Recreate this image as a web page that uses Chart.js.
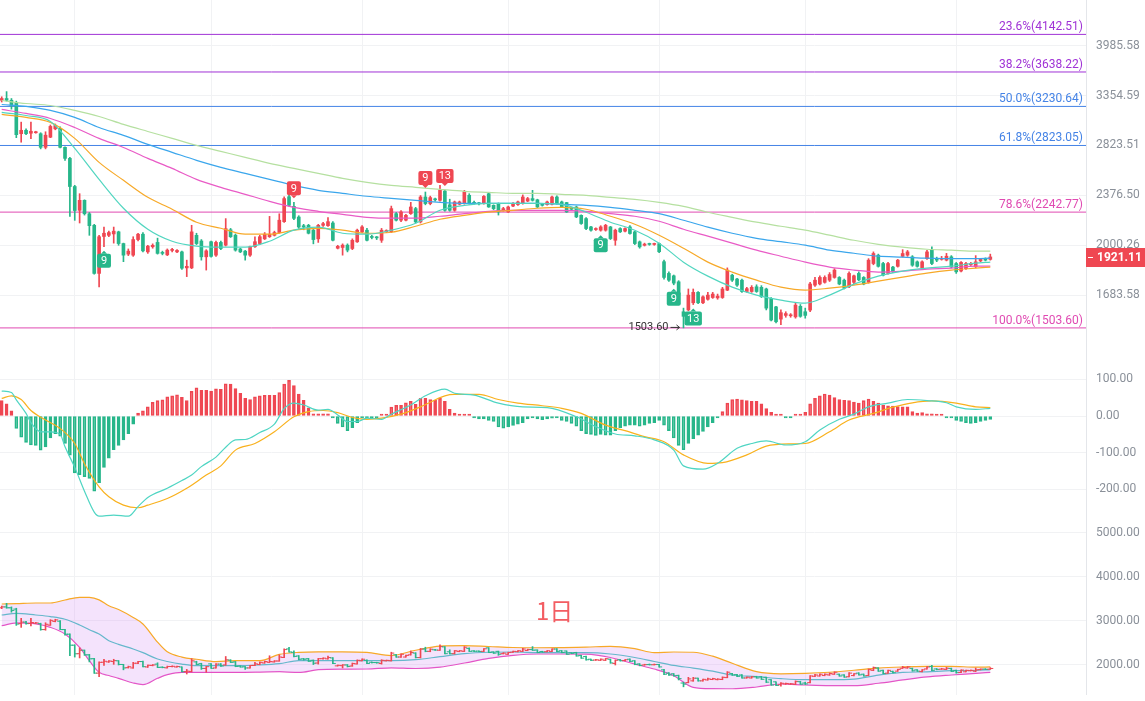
<!DOCTYPE html>
<html lang="zh-CN">
<head>
<meta charset="UTF-8">
<title>日K线</title>
<script src="https://cdn.jsdelivr.net/npm/chart.js"></script>
<style>
    * { margin: 0; padding: 0; box-sizing: border-box; }
    body { background: #fff; font-family: 'Roboto', sans-serif; }
    #wrap { position: relative; width: 1145px; height: 701px; overflow: hidden; background: #fff; }
    .pane { position: absolute; left: 0; width: 1145px; }
    #pane-k { top: 0; height: 345px; }
    #pane-macd { top: 345px; height: 182px; }
    #pane-boll { top: 527px; height: 168px; }
    .period {
        position: absolute; left: 536px; top: 598px;
        font-size: 24px; line-height: 24px; color: #f35d62;
        font-family: 'Noto Sans CJK SC', sans-serif;
    }
</style>
</head>
<body>
<div id="wrap">
    <div class="pane" id="pane-k"><canvas id="kChart"></canvas></div>
    <div class="pane" id="pane-macd"><canvas id="macdChart"></canvas></div>
    <div class="pane" id="pane-boll"><canvas id="bollChart"></canvas></div>
    <div class="period">1日</div>
</div>
<script>
// daily candles
const open = [
3300,3320,3300,3270,2940,2975,2945,2950,2940,2805,
2905,2990,2995,2805,2700,2450,2257,2336,2230,2143,
1815,2062,2070,2080,2095,2012,1940,1933,2040,2078,
1955,1990,2020,1950,1935,1965,1955,1955,1850,1850,
2070,2030,1922,2025,1933,2020,2001,2110,2071,1975,
1960,1933,1990,2012,2045,2060,2070,2090,2170,2365,
2288,2205,2140,2143,2107,2045,2143,2140,2160,1980,
1985,2001,1978,2024,2095,2107,2062,2055,2035,2095,
2095,2231,2181,2181,2231,2270,2168,2363,2310,2345,
2336,2412,2300,2257,2305,2310,2377,2320,2315,2310,
2390,2296,2310,2257,2244,2290,2302,2310,2330,2350,
2340,2305,2302,2305,2363,2323,2318,2275,2283,2218,
2193,2131,2112,2107,2107,2131,2035,2119,2100,2131,
2095,2024,2000,2010,2006,2012,1890,1815,1800,1763,
1590,1600,1640,1700,1640,1660,1670,1668,1670,1713,
1804,1780,1773,1705,1705,1733,1730,1720,1665,1617,
1550,1570,1568,1562,1620,1590,1599,1743,1750,1760,
1773,1790,1790,1773,1733,1760,1815,1790,1760,1878,
1933,1878,1815,1855,1860,1925,1933,1922,1889,1850,
1910,1967,1910,1905,1900,1922,1878,1830,1845,1870,
1858,1895,1905,1905];
const high = [
3340,3400,3320,3290,3060,2990,3060,2965,2950,2960,
3030,3040,3010,2810,2710,2460,2390,2340,2240,2150,
2070,2130,2100,2130,2100,2015,1975,2060,2085,2090,
2000,2010,2050,1960,1975,1980,1970,1960,1900,2143,
2085,2040,1970,2030,2030,2030,2193,2120,2080,1980,
1965,1995,2060,2070,2090,2210,2100,2230,2365,2400,
2320,2215,2150,2150,2115,2150,2165,2200,2170,2000,
2010,2010,2045,2115,2140,2120,2070,2062,2120,2110,
2290,2240,2255,2225,2320,2280,2375,2404,2370,2355,
2460,2420,2345,2330,2330,2418,2390,2330,2320,2375,
2395,2300,2315,2280,2290,2318,2330,2380,2360,2418,
2345,2312,2330,2370,2372,2330,2320,2280,2290,2222,
2200,2135,2125,2140,2150,2135,2115,2125,2125,2140,
2100,2030,2015,2015,2015,2015,1900,1825,1805,1770,
1610,1720,1720,1705,1680,1700,1700,1690,1730,1850,
1810,1785,1780,1730,1740,1745,1740,1725,1670,1620,
1600,1590,1580,1640,1630,1610,1760,1790,1800,1800,
1820,1845,1795,1780,1825,1805,1825,1795,1910,1955,
1940,1885,1885,1860,1905,1970,1965,1930,1895,1895,
1965,1990,1920,1925,1945,1930,1885,1890,1885,1885,
1930,1910,1915,1940];
const low = [
3280,3290,3200,2900,2855,2930,2890,2945,2790,2790,
2900,2980,2800,2680,2210,2180,2160,2220,2070,1810,
1733,1990,2060,2015,2000,1890,1930,1925,2030,1955,
1945,1980,1940,1935,1930,1955,1950,1840,1795,1845,
2005,1900,1836,1920,1925,1970,1995,2055,1960,1950,
1900,1925,1985,2005,2040,2055,2065,2085,2165,2290,
2185,2120,2110,2080,2010,2020,2135,2135,2030,1975,
1933,1955,1970,2020,2090,2030,2045,2040,2020,2090,
2090,2175,2170,2175,2225,2160,2160,2300,2300,2330,
2330,2250,2250,2250,2300,2305,2305,2305,2300,2305,
2280,2262,2220,2250,2240,2285,2295,2305,2325,2330,
2278,2290,2298,2300,2305,2278,2240,2255,2200,2150,
2110,2100,2105,2100,2100,2040,2000,2090,2095,2078,
2005,1980,1995,2000,2000,1950,1780,1765,1745,1660,
1503.6,1595,1630,1635,1635,1655,1665,1660,1665,1710,
1765,1735,1700,1700,1700,1700,1670,1600,1540,1530,
1520,1560,1560,1555,1560,1555,1590,1735,1745,1755,
1765,1785,1745,1720,1728,1750,1770,1745,1755,1870,
1855,1800,1810,1820,1855,1920,1925,1860,1855,1845,
1905,1870,1890,1900,1895,1850,1815,1825,1840,1865,
1850,1890,1895,1900];
const close = [
3320,3300,3240,2930,2975,2940,2965,2955,2805,2925,
3015,3025,2805,2700,2450,2255,2336,2230,2140,1815,
2060,2085,2090,2100,2012,1933,1960,2040,2078,1962,
1994,2000,1945,1945,1967,1970,1965,1848,1860,2095,
2012,1922,1962,1925,2020,1978,2118,2060,1967,1955,
1933,1990,2025,2060,2078,2078,2090,2181,2350,2296,
2195,2130,2130,2085,2040,2143,2155,2170,2035,1993,
2001,1967,2035,2107,2131,2035,2055,2052,2107,2105,
2270,2181,2244,2218,2283,2168,2363,2310,2358,2340,
2418,2257,2257,2323,2323,2404,2310,2312,2308,2368,
2283,2270,2244,2270,2283,2310,2323,2363,2350,2336,
2283,2296,2323,2363,2310,2283,2244,2265,2206,2156,
2119,2107,2118,2131,2143,2047,2107,2095,2119,2083,
2012,1989,2008,2006,2010,1956,1790,1773,1755,1690,
1565,1684,1700,1640,1674,1684,1690,1678,1720,1836,
1773,1743,1705,1722,1730,1705,1675,1610,1545,1536,
1585,1580,1572,1627,1565,1570,1750,1773,1790,1790,
1808,1836,1750,1725,1815,1800,1775,1750,1900,1944,
1860,1804,1878,1825,1900,1944,1955,1867,1860,1889,
1955,1878,1900,1910,1926,1855,1825,1885,1878,1878,
1889,1905,1900,1921.11];

// moving averages, sampled every 5 candles
const maIdx = [0,5,10,15,20,25,30,35,40,45,50,55,60,65,70,75,80,85,90,95,100,
    105,110,115,120,125,130,135,140,145,150,155,160,165,170,175,180,185,190,195,200,203];
const maCyan = [3164,3131,3067,2795,2511,2273,2114,2028,1994,1987,1987,2028,2107,2129,2085,2078,2107,2158,2257,2296,2312,
    2312,2312,2304,2242,2166,2107,2015,1887,1798,1731,1684,1655,1638,1684,1749,1798,1829,1848,1861,1880,1887];
const maOrange = [3142,3110,3057,2893,2663,2503,2360,2265,2166,2121,2078,2078,2107,2121,2107,2085,2092,2136,2188,2218,2242,
    2257,2273,2280,2265,2211,2151,2071,1980,1887,1823,1773,1731,1713,1725,1743,1767,1792,1817,1836,1848,1855];
const maPink = [3197,3153,3099,3004,2893,2804,2700,2608,2511,2443,2385,2328,2280,2249,2226,2203,2196,2196,2211,2231,2249,
    2257,2257,2257,2249,2231,2211,2173,2114,2064,2015,1967,1926,1887,1855,1836,1823,1829,1842,1848,1861,1861];
const maBlue = [3252,3230,3186,3110,3004,2923,2834,2757,2682,2618,2564,2511,2460,2418,2393,2369,2352,2336,2320,2312,2312,
    2312,2312,2304,2296,2280,2257,2231,2181,2129,2085,2049,2025,2001,1967,1946,1926,1920,1913,1910,1910,1913];
const maGreen = [3297,3263,3241,3186,3120,3036,2963,2893,2824,2766,2709,2654,2608,2564,2520,2486,2460,2443,2426,2410,2401,
    2393,2393,2385,2377,2360,2344,2320,2288,2242,2203,2166,2136,2107,2071,2035,2007,1987,1973,1967,1960,1960];

// fibonacci levels
const fibRatio = ['23.6%','38.2%','50.0%','61.8%','78.6%','100.0%'];
const fibLevel = [4142.51, 3638.22, 3230.64, 2823.05, 2242.77, 1503.60];

// TD sequential marks
const tdIdx  = [21, 60, 87, 91, 123, 138, 142];
const tdText = ['9','9','9','13','9','9','13'];
const tdSide = ['buy','sell','sell','sell','buy','buy','buy'];

// MACD
const macdHist = [
42,33,14,-34,-58,-72,-79,-80,-93,-84,
-60,-48,-55,-75,-107,-155,-160,-165,-170,-205,
-182,-140,-115,-92,-80,-65,-48,-22,8,14,
25,37,42,44,52,55,58,51,42,67,
77,70,70,68,74,73,88,87,75,62,
48,45,52,55,56,56,56,64,87,97,
83,60,43,22,6,6,6,6,-5,-20,
-30,-40,-32,-18,-5,-5,-5,-7,4,4,
24,29,29,36,40,32,48,48,45,43,
48,40,18,8,4,5,2,-3,-8,-8,
-12,-15,-30,-33,-30,-26,-22,-18,-8,-5,
-8,-10,-8,-6,-5,-12,-15,-20,-28,-40,
-48,-50,-53,-50,-52,-52,-40,-32,-28,-25,
-25,-28,-25,-20,-18,-12,-25,-40,-60,-80,
-92,-75,-62,-52,-42,-30,-18,-5,12,35,
45,46,44,42,40,40,33,20,10,5,
3,-2,-2,3,4,10,33,48,55,60,
57,50,45,43,42,38,35,42,46,40,
35,30,28,27,26,25,25,12,8,9,
6,6,5,4,-2,-4,-12,-15,-18,-20,
-18,-15,-12,-9];
const difIdx = [0,2,3,5,6,8,10,12,13,15,17,19,20,23,26,28,30,34,37,39,41,44,46,48,50,53,56,58,60,62,
    65,67,69,71,73,75,78,80,84,87,91,93,97,102,107,112,118,122,126,130,134,138,140,144,147,151,154,157,161,165,
    168,172,175,178,182,186,190,194,196,200,203];
const difVal = [68,64,44,7,-18,-43,-43,-50,-84,-140,-205,-262,-273,-270,-273,-247,-222,-197,-176,-161,-138,-112,-85,-65,-64,-45,-22,20,35,30,
    16,18,3,-15,-15,-6,-9,5,30,55,73,62,57,35,25,23,-2,-29,-49,-54,-65,-93,-136,-145,-129,-88,-75,-68,-79,-70,
    -38,-9,5,25,35,45,42,36,25,18,21];
const deaIdx = [0,2,4,6,9,12,15,17,20,22,25,28,30,34,38,42,45,48,52,56,60,63,66,69,72,75,78,82,86,91,
    93,98,102,106,111,115,119,124,128,132,136,140,145,148,153,157,162,165,170,174,179,183,187,191,196,200,203];
const deaVal = [48,55,45,15,-11,-34,-75,-130,-193,-220,-243,-250,-243,-225,-197,-161,-136,-93,-75,-43,-2,12,15,9,-4,-9,-6,5,25,55,
    59,59,45,35,28,21,7,-25,-40,-56,-70,-106,-129,-127,-106,-82,-76,-75,-43,-11,7,24,36,41,35,25,23];

// Bollinger bands
const bbIdx = [0,3,7,10,13,16,18,20,22,24,27,29,32,34,37,40,44,48,53,57,61,65,70,75,80,85,90,95,100,105,
    110,115,120,125,130,134,138,142,146,150,155,160,165,170,175,180,185,190,195,200,203];
const bbUp = [3386,3395,3409,3409,3477,3538,3535,3480,3348,3260,3080,2932,2520,2300,2180,2130,2078,2098,2098,2240,
    2288,2300,2300,2285,2215,2335,2430,2440,2420,2398,2392,2396,2405,2425,2370,2280,2295,2290,2200,2040,
    1848,1800,1810,1835,1880,1930,1955,1968,1970,1950,1955];
const bbMid = [3136,3174,3136,3100,3040,2909,2800,2705,2553,2470,2364,2280,2136,2080,2020,1985,1985,1985,2000,2030,
    2098,2098,2098,2098,2098,2120,2190,2260,2290,2295,2282,2280,2280,2250,2170,2080,1990,1930,1860,1773,
    1735,1690,1666,1666,1680,1770,1830,1845,1871,1875,1894];
const bbLow = [2894,2955,2935,2856,2705,2402,2098,1834,1760,1697,1591,1553,1698,1780,1834,1834,1834,1834,1840,1848,
    1830,1894,1905,1909,1935,1920,1950,2045,2150,2220,2250,2250,2245,2170,2020,1909,1757,1493,1462,1460,
    1500,1568,1545,1530,1530,1585,1660,1730,1773,1810,1834];

// axis ticks
const kTicks = [1683.58, 2000.26, 2376.50, 2823.51, 3354.59, 3985.58];
const macdTicks = [-200, -100, 0, 100];
const bollTicks = [2000, 3000, 4000, 5000];
const monthIdx = [15, 43, 74, 104, 135, 165, 196];

// styles
const RED = '#ef4752', GREEN = '#27b68a';
const GRID = '#f1f2f4', AXIS = '#e4e6ea';
const FIB_COLORS = ['#a032d6','#a032d6','#4483e6','#4483e6','#e04ab2','#e04ab2'];
const X_MIN = -0.35, X_MAX = 222.65;

const idx = open.map((_, i) => i);
const upCol = idx.map(i => close[i] >= open[i] ? RED : GREEN);

function lineSet(xs, ys, color, width, order) {
    return {
        type: 'line',
        data: xs.map((v, k) => ({ x: v, y: ys[k] })),
        borderColor: color, borderWidth: width,
        pointRadius: 0, fill: false,
        cubicInterpolationMode: 'monotone',
        order: order
    };
}

function barSet(data, colors, width, order, extra) {
    return Object.assign({
        type: 'bar', data: data,
        backgroundColor: colors,
        grouped: false, barThickness: width,
        minBarLength: 1, order: order
    }, extra || {});
}

function xScale(edge) {
    return {
        type: 'linear', min: X_MIN, max: X_MAX, bounds: 'data', offset: false,
        grid: { color: GRID, drawTicks: false, offset: false },
        border: { display: !!edge, color: '#eceef1' },
        ticks: { display: false },
        afterBuildTicks: s => { s.ticks = monthIdx.map(v => ({ value: v })); },
        afterFit: s => { s.height = 0; s.paddingLeft = 0; s.paddingRight = 0; }
    };
}

function yScale(type, min, max, ticks) {
    return {
        type: type, min: min, max: max, bounds: 'data', position: 'right',
        grid: { color: GRID, drawTicks: false },
        border: { color: AXIS },
        ticks: {
            color: '#8a9099', padding: 10,
            font: { family: 'Roboto', size: 12 },
            callback: v => Number(v).toFixed(2)
        },
        afterBuildTicks: s => { s.ticks = ticks.map(v => ({ value: v })); },
        afterFit: s => { s.width = 59; s.paddingTop = 0; s.paddingBottom = 0; }
    };
}

function baseOpts(x, y) {
    return {
        responsive: true, maintainAspectRatio: false, animation: false,
        events: [],
        layout: { padding: 0, autoPadding: false },
        plugins: { legend: { display: false }, tooltip: { enabled: false } },
        scales: { x: x, y: y }
    };
}

function tdBox(ctx, cx, yRef, txt, sell) {
    ctx.font = '11px Roboto';
    const w = Math.max(14, ctx.measureText(txt).width + 5), h = 14;
    const top = sell ? yRef - 7 - h : yRef + 7;
    ctx.fillStyle = sell ? RED : GREEN;
    ctx.beginPath();
    ctx.roundRect(cx - w / 2, top, w, h, 2);
    ctx.fill();
    ctx.beginPath();
    if (sell) {
        ctx.moveTo(cx - 3, top + h); ctx.lineTo(cx + 3, top + h); ctx.lineTo(cx, top + h + 3);
    } else {
        ctx.moveTo(cx - 3, top); ctx.lineTo(cx + 3, top); ctx.lineTo(cx, top - 3);
    }
    ctx.fill();
    ctx.fillStyle = '#fff';
    ctx.textAlign = 'center';
    ctx.textBaseline = 'middle';
    ctx.fillText(txt, cx, top + h / 2 + 0.5);
}

const kMarks = {
    id: 'kMarks',
    afterDatasetsDraw(chart) {
        const { ctx, chartArea: a, scales: { x, y } } = chart;
        ctx.save();
        // fib labels
        ctx.font = '12px Roboto';
        ctx.textAlign = 'right';
        ctx.textBaseline = 'alphabetic';
        fibLevel.forEach((v, k) => {
            ctx.fillStyle = FIB_COLORS[k];
            ctx.fillText(fibRatio[k] + '(' + v.toFixed(2) + ')', a.right - 3, y.getPixelForValue(v) - 4);
        });
        // TD marks
        tdIdx.forEach((i, k) => {
            const sell = tdSide[k] === 'sell';
            tdBox(ctx, x.getPixelForValue(i), y.getPixelForValue(sell ? high[i] : low[i]), tdText[k], sell);
        });
        // lowest price
        const lo = Math.min(...low);
        const li = low.indexOf(lo);
        const lx = x.getPixelForValue(li), ly = y.getPixelForValue(lo);
        ctx.fillStyle = '#333';
        ctx.font = '11px Roboto';
        ctx.textAlign = 'right';
        ctx.textBaseline = 'middle';
        ctx.fillText(lo.toFixed(2), lx - 15, ly - 1);
        ctx.strokeStyle = '#333';
        ctx.lineWidth = 1;
        ctx.beginPath();
        ctx.moveTo(lx - 13, ly - 0.5); ctx.lineTo(lx - 4, ly - 0.5);
        ctx.moveTo(lx - 7, ly - 3); ctx.lineTo(lx - 4, ly - 0.5); ctx.lineTo(lx - 7, ly + 2);
        ctx.stroke();
        ctx.restore();
    },
    afterDraw(chart) {
        const { ctx, chartArea: a, scales: { y } } = chart;
        const last = close[close.length - 1];
        const py = Math.round(y.getPixelForValue(last));
        ctx.save();
        ctx.fillStyle = RED;
        ctx.fillRect(a.right, py - 9, chart.width - a.right, 19);
        ctx.fillStyle = '#fff';
        ctx.fillRect(a.right + 2, py, 5, 1);
        ctx.font = 'bold 12px Roboto';
        ctx.textAlign = 'left';
        ctx.textBaseline = 'middle';
        ctx.fillText(last.toFixed(2), a.right + 11, py + 1);
        ctx.restore();
    }
};

// main candle chart
new Chart(document.getElementById('kChart'), {
    type: 'bar',
    data: {
        datasets: [
            lineSet(maIdx, maCyan, '#52d6c0', 1.2, 1),
            lineSet(maIdx, maOrange, '#f7a928', 1.2, 1),
            lineSet(maIdx, maPink, '#e95bc6', 1.2, 1),
            lineSet(maIdx, maBlue, '#3aa6ec', 1.2, 1),
            lineSet(maIdx, maGreen, '#b5e0a0', 1.2, 1),
            barSet(idx.map(i => ({ x: i, y: [low[i], high[i]] })), upCol, 1, 3),
            barSet(idx.map(i => ({ x: i, y: [open[i], close[i]] })), upCol, 3, 3),
            ...fibLevel.map((v, k) => lineSet([X_MIN, X_MAX], [v, v], FIB_COLORS[k], 1, 5))
        ]
    },
    options: baseOpts(xScale(false), yScale('logarithmic', 1417.5, 4665, kTicks)),
    plugins: [kMarks]
});

// MACD
const histCol = idx.map(i => macdHist[i] >= 0 ? RED : GREEN);
const histFill = idx.map(i => {
    const h = macdHist[i], p = i > 0 ? macdHist[i - 1] : 0;
    const hollow = i > 0 && (Math.sign(h) !== Math.sign(p) || Math.abs(h) > Math.abs(p));
    if (!hollow) return histCol[i];
    return h >= 0 ? 'rgba(239,71,82,0.4)' : 'rgba(39,182,138,0.35)';
});
new Chart(document.getElementById('macdChart'), {
    type: 'bar',
    data: {
        datasets: [
            lineSet(difIdx, difVal, '#4fd5c3', 1.2, 1),
            lineSet(deaIdx, deaVal, '#f9b11d', 1.2, 1),
            barSet(idx.map(i => ({ x: i, y: macdHist[i] })), histFill, 3, 2,
                { borderColor: histCol, borderWidth: 1, borderSkipped: false, minBarLength: 2 })
        ]
    },
    options: baseOpts(xScale(false), yScale('linear', -302.5, 193.5, macdTicks))
});

// Bollinger + OHLC bars
const upper = lineSet(bbIdx, bbUp, '#f7a928', 1.2, 2);
upper.fill = '+2';
upper.backgroundColor = 'rgba(214,150,245,0.27)';
function tickSet(shift, vals) {
    return {
        type: 'line', showLine: false,
        data: idx.map(i => ({ x: i + shift, y: vals[i] })),
        pointStyle: 'line', pointRadius: 1.5, pointBorderWidth: 1,
        pointBorderColor: upCol, order: 1
    };
}
new Chart(document.getElementById('bollChart'), {
    type: 'bar',
    data: {
        datasets: [
            upper,
            lineSet(bbIdx, bbMid, '#3cc3bd', 1.2, 2),
            lineSet(bbIdx, bbLow, '#e64cc0', 1.2, 2),
            barSet(idx.map(i => ({ x: i, y: [low[i], high[i]] })), upCol, 1, 1),
            tickSet(-0.3, open),
            tickSet(0.3, close)
        ]
    },
    options: baseOpts(xScale(true), yScale('linear', 1318, 5136, bollTicks))
});
</script>
</body>
</html>
